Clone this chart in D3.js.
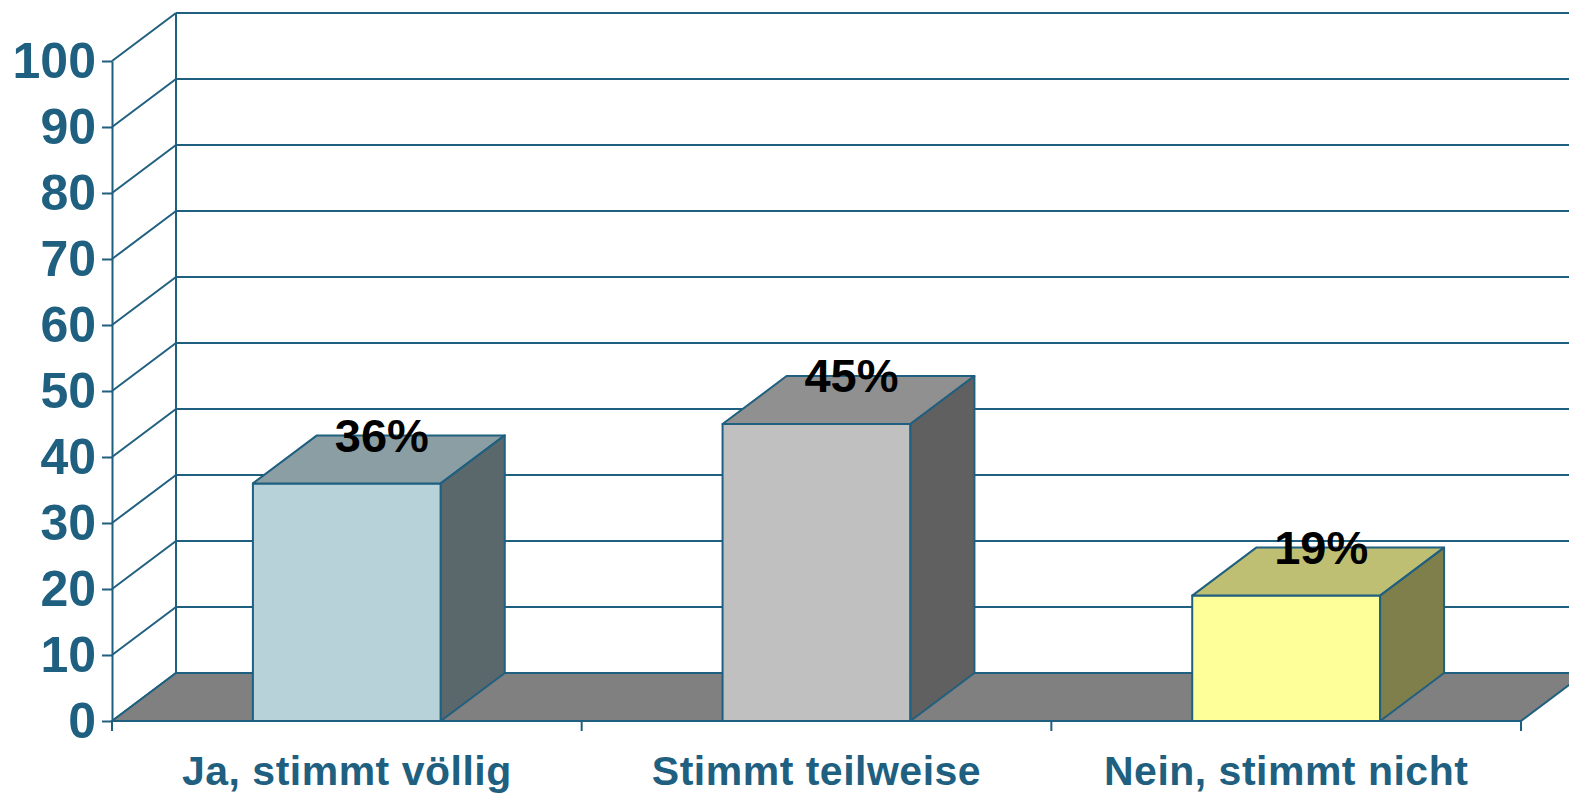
<!DOCTYPE html>
<html>
<head>
<meta charset="utf-8">
<script src="https://cdn.jsdelivr.net/npm/d3@7"></script>
<style>
  body { margin: 0; background: #fff; }
  svg { display: block; font-family: "Liberation Sans", Arial, sans-serif; }
</style>
</head>
<body>
<div id="vis"></div>
<script>
// data
const categories = ["Ja, stimmt völlig", "Stimmt teilweise", "Nein, stimmt nicht"];
const values = [36, 45, 19];
const valueLabels = ["36%", "45%", "19%"];
const yTicks = [0, 10, 20, 30, 40, 50, 60, 70, 80, 90, 100];

// bar colours: front, top, side
const frontColors = ["#b8d2d9", "#c0c0c0", "#ffff99"];
const topColors = ["#8a9ea3", "#909090", "#bfbf73"];
const sideColors = ["#5a686c", "#606060", "#7f7f4c"];

const FRAME_WIDTH = 1569;
const FRAME_HEIGHT = 794;
const AXIS_COLOR = "#1f5f7f";
const DX = 64, DY = 48; // 3d depth offset

const FRAME = d3.select("#vis")
  .append("svg")
    .attr("width", FRAME_WIDTH)
    .attr("height", FRAME_HEIGHT);

const Y_SCALE = d3.scaleLinear()
  .domain([0, 100])
  .range([721, 61]);

const X_SCALE = d3.scaleBand()
  .domain(categories)
  .range([112, 1521])
  .padding(0);

const BAR_W = X_SCALE.bandwidth() * 0.4;
const x0 = X_SCALE.range()[0], x1 = X_SCALE.range()[1];

// back wall grid lines + side wall diagonals
const grid = FRAME.append("g")
  .attr("stroke", AXIS_COLOR)
  .attr("stroke-width", 2)
  .attr("fill", "none");

grid.selectAll(".back")
  .data(yTicks)
  .enter()
  .append("line")
    .attr("x1", x0 + DX)
    .attr("x2", FRAME_WIDTH + 10)
    .attr("y1", (d) => Y_SCALE(d) - DY)
    .attr("y2", (d) => Y_SCALE(d) - DY);

grid.selectAll(".side")
  .data(yTicks)
  .enter()
  .append("line")
    .attr("x1", x0)
    .attr("y1", (d) => Y_SCALE(d))
    .attr("x2", x0 + DX)
    .attr("y2", (d) => Y_SCALE(d) - DY);

grid.append("line")
  .attr("x1", x0 + DX).attr("x2", x0 + DX)
  .attr("y1", Y_SCALE(100) - DY).attr("y2", Y_SCALE(0) - DY);

// floor
const y0 = Y_SCALE(0);
FRAME.append("path")
  .attr("d", d3.line()([[x0, y0], [x0 + DX, y0 - DY], [x1 + DX, y0 - DY], [x1, y0]]) + "Z")
  .attr("fill", "#808080")
  .attr("stroke", AXIS_COLOR)
  .attr("stroke-width", 2);

// bars
const bars = FRAME.selectAll(".bar")
  .data(values)
  .enter()
  .append("g")
    .attr("stroke", AXIS_COLOR)
    .attr("stroke-width", 2)
    .attr("stroke-linejoin", "round");

const left = (d, i) => X_SCALE(categories[i]) + (X_SCALE.bandwidth() - BAR_W) / 2;

bars.append("rect")
  .attr("x", left)
  .attr("y", (d) => Y_SCALE(d))
  .attr("width", BAR_W)
  .attr("height", (d) => y0 - Y_SCALE(d))
  .attr("fill", (d, i) => frontColors[i]);

bars.append("path")
  .attr("d", (d, i) => {
    const l = left(d, i), t = Y_SCALE(d);
    return d3.line()([[l, t], [l + DX, t - DY], [l + BAR_W + DX, t - DY], [l + BAR_W, t]]) + "Z";
  })
  .attr("fill", (d, i) => topColors[i]);

bars.append("path")
  .attr("d", (d, i) => {
    const r = left(d, i) + BAR_W, t = Y_SCALE(d);
    return d3.line()([[r, t], [r + DX, t - DY], [r + DX, y0 - DY], [r, y0]]) + "Z";
  })
  .attr("fill", (d, i) => sideColors[i]);

// value labels
FRAME.selectAll(".val")
  .data(values)
  .enter()
  .append("text")
    .attr("x", (d, i) => left(d, i) + BAR_W / 2 + DX / 2 + 3)
    .attr("y", (d) => Y_SCALE(d) - DY)
    .attr("dy", "0.35em")
    .attr("text-anchor", "middle")
    .attr("font-size", "47px")
    .attr("font-weight", "bold")
    .attr("fill", "#000")
    .text((d, i) => valueLabels[i]);

// y axis
const yAxis = FRAME.append("g")
  .attr("transform", "translate(" + x0 + ",0)")
  .call(d3.axisLeft(Y_SCALE).tickValues(yTicks).tickSize(10).tickSizeOuter(0).tickPadding(6));
yAxis.selectAll("path, line").attr("stroke", AXIS_COLOR).attr("stroke-width", 2);
yAxis.selectAll("text")
  .attr("fill", AXIS_COLOR)
  .attr("font-size", "50px")
  .attr("font-weight", "bold")
  .attr("font-family", "Liberation Sans, Arial, sans-serif");

// category boundary ticks
FRAME.append("g")
  .selectAll("line")
  .data(d3.range(categories.length + 1))
  .enter()
  .append("line")
    .attr("x1", (d) => x0 + d * X_SCALE.step())
    .attr("x2", (d) => x0 + d * X_SCALE.step())
    .attr("y1", y0)
    .attr("y2", y0 + 10)
    .attr("stroke", AXIS_COLOR)
    .attr("stroke-width", 2);

// category labels
const xAxis = FRAME.append("g")
  .attr("transform", "translate(0," + y0 + ")")
  .call(d3.axisBottom(X_SCALE).tickSize(0).tickPadding(35));
xAxis.select(".domain").remove();
xAxis.selectAll("text")
  .attr("fill", AXIS_COLOR)
  .attr("font-size", "41px")
  .attr("font-weight", "bold")
  .attr("letter-spacing", "0.5px")
  .attr("font-family", "Liberation Sans, Arial, sans-serif");
</script>
</body>
</html>
